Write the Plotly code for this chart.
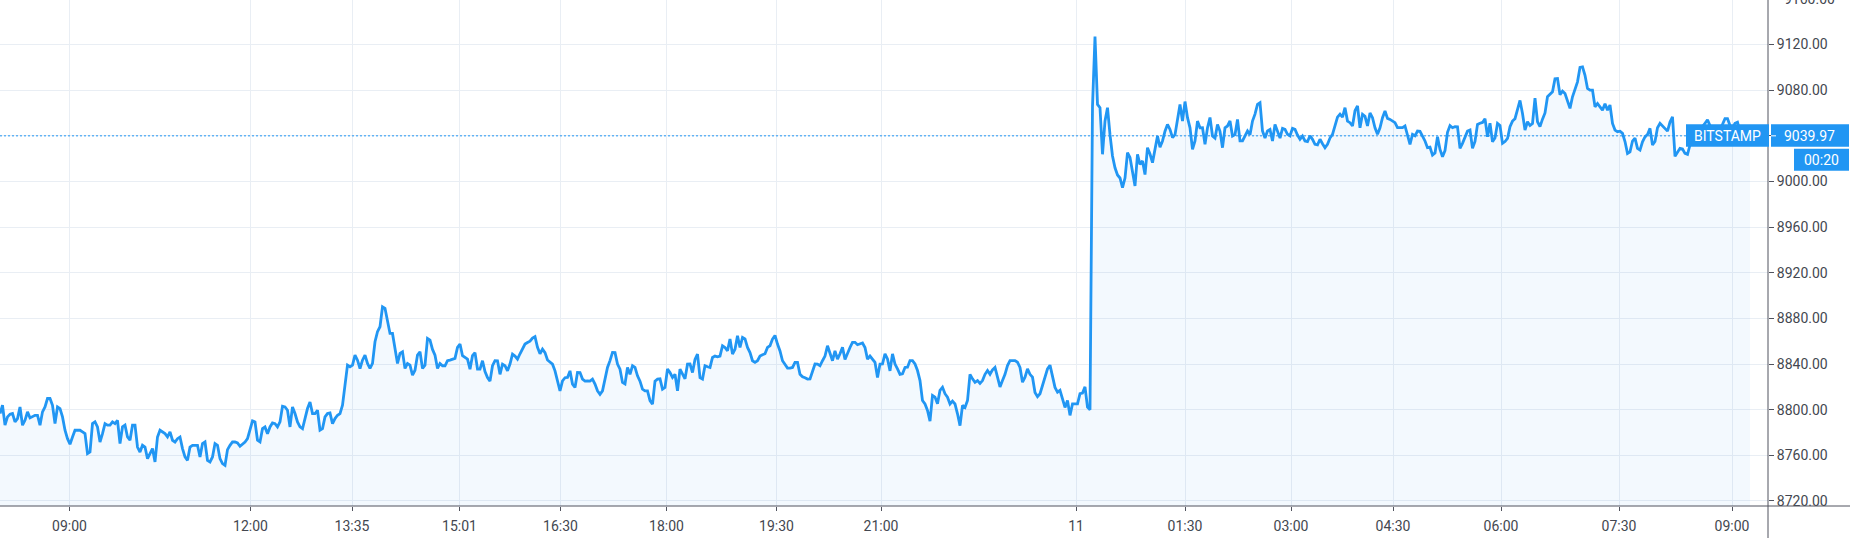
import plotly.graph_objects as go

# ---- data: close prices ----
# closes on the even bars
close_even = [
    8796.6, 8786.4, 8796.0, 8789.3, 8802.4, 8790.7, 8792.8, 8795.1, 8786.4, 8802.4,
    8809.8, 8787.8, 8801.0, 8782.0, 8769.7, 8782.0, 8782.0, 8779.0, 8762.9, 8789.3,
    8771.7, 8787.8, 8786.4, 8787.8, 8770.3, 8786.4, 8773.2, 8786.4, 8762.9, 8767.3,
    8761.5, 8754.2, 8782.0, 8779.0, 8780.5, 8771.7, 8776.1, 8758.6, 8767.3, 8768.8,
    8758.6, 8771.7, 8754.2, 8770.3, 8757.1, 8751.2, 8768.8, 8771.7, 8767.9, 8771.7,
    8782.0, 8789.3, 8771.7, 8784.9, 8784.9, 8787.8, 8789.3, 8802.4, 8784.9, 8796.6,
    8784.9, 8792.2, 8806.8, 8796.6, 8782.0, 8793.7, 8797.2, 8792.2, 8796.6, 8821.5,
    8837.6, 8847.8, 8836.1, 8847.8, 8836.1, 8859.5, 8872.7, 8888.8, 8866.8, 8852.2,
    8849.3, 8836.1, 8839.0, 8834.6, 8850.7, 8839.0, 8861.0, 8847.8, 8840.5, 8838.5,
    8843.5, 8845.0, 8857.5, 8846.0, 8835.5, 8850.0, 8835.5, 8833.5, 8825.0, 8843.0,
    8831.0, 8838.5, 8840.0, 8847.0, 8849.0, 8857.5, 8860.0, 8864.0, 8849.0, 8850.0,
    8841.5, 8834.0, 8816.5, 8828.0, 8834.0, 8819.5, 8832.5, 8825.0, 8825.0, 8822.5,
    8813.5, 8828.0, 8843.0, 8850.0, 8835.5, 8822.5, 8831.0, 8837.0, 8825.0, 8816.5,
    8808.0, 8825.0, 8827.0, 8819.5, 8832.5, 8831.0, 8835.5, 8827.0, 8840.0, 8844.0,
    8828.0, 8838.5, 8837.0, 8847.0, 8847.0, 8854.5, 8862.0, 8853.0, 8854.5, 8862.0,
    8850.0, 8841.5, 8847.0, 8849.0, 8856.0, 8865.0, 8851.5, 8840.0, 8836.5, 8841.5,
    8831.0, 8828.0, 8827.0, 8840.0, 8838.5, 8847.0, 8850.0, 8851.5, 8849.0, 8844.0,
    8854.5, 8859.0, 8857.5, 8854.5, 8847.0, 8841.5, 8840.0, 8849.0, 8834.0, 8840.0,
    8831.0, 8837.0, 8843.0, 8840.0, 8825.5, 8805.0, 8790.0, 8811.0, 8817.0, 8814.0,
    8805.0, 8805.0, 8786.0, 8802.0, 8831.0, 8824.0, 8823.0, 8831.0, 8831.0, 8837.0,
    8820.0, 8831.0, 8843.0, 8843.0, 8837.0, 8828.5, 8831.0, 8815.0, 8814.0, 8828.5,
    8839.0, 8819.5, 8817.0, 8802.0, 8795.0, 8805.0, 8814.0, 8820.0, 8800.0, 9127.0,
    9064.6, 9053.0, 9041.0, 9012.0, 9003.0, 9003.0, 9021.0, 8996.0, 9015.0, 9006.0,
    9024.0, 9028.0, 9030.0, 9044.0, 9045.6, 9041.0, 9067.5, 9070.0, 9047.0, 9035.5,
    9047.0, 9032.5, 9056.0, 9038.0, 9044.0, 9047.0, 9053.0, 9041.0, 9035.5, 9040.0,
    9041.0, 9059.0, 9069.0, 9038.0, 9045.6, 9050.0, 9038.0, 9045.6, 9040.0, 9045.6,
    9037.0, 9035.5, 9040.0, 9032.5, 9037.0, 9029.6, 9038.0, 9050.0, 9059.0, 9064.6,
    9051.5, 9062.0, 9047.0, 9057.0, 9060.0, 9047.0, 9047.0, 9061.7, 9054.4, 9051.5,
    9047.0, 9048.6, 9032.5, 9040.0, 9044.0, 9035.5, 9030.0, 9025.0, 9028.0, 9027.0,
    9049.0, 9048.0, 9029.0, 9039.0, 9045.0, 9035.0, 9051.0, 9055.0, 9051.0, 9038.0,
    9049.0, 9035.0, 9048.0, 9055.0, 9071.0, 9045.0, 9049.0, 9073.0, 9048.0, 9060.0,
    9076.0, 9090.0, 9076.0, 9077.0, 9064.0, 9080.0, 9100.0, 9093.0, 9080.0, 9065.4,
    9065.4, 9068.0, 9067.0, 9045.0, 9044.0, 9035.0, 9026.0, 9038.0, 9027.5, 9039.0,
    9046.5, 9035.0, 9051.0, 9046.5, 9052.0, 9022.0, 9029.0, 9024.6, 9032.0, 9040.0,
    9046.5, 9051.0, 9049.0, 9042.0, 9046.5, 9055.0, 9049.0, 9051.0, 9043.6, 9038.0,
    9039.97,
]
# closes on the odd bars (each sits between two even bars)
close_odd = [
    8803.9, 8793.7, 8796.6, 8792.2, 8786.4, 8798.1, 8794.3, 8795.1, 8798.1, 8809.8,
    8803.9, 8802.4, 8793.7, 8774.6, 8776.1, 8782.0, 8780.5, 8761.5, 8787.8, 8784.9,
    8779.0, 8786.4, 8789.3, 8790.7, 8784.9, 8776.1, 8786.4, 8767.3, 8768.8, 8757.1,
    8765.9, 8776.1, 8780.5, 8776.1, 8773.2, 8774.6, 8765.9, 8755.6, 8768.8, 8768.8,
    8770.3, 8755.6, 8758.6, 8768.8, 8752.7, 8765.0, 8771.7, 8770.8, 8769.7, 8774.6,
    8790.2, 8773.2, 8783.4, 8779.0, 8788.4, 8784.9, 8803.0, 8799.5, 8802.4, 8789.3,
    8783.4, 8801.0, 8796.6, 8799.5, 8783.4, 8796.6, 8787.8, 8795.1, 8803.9, 8839.0,
    8839.0, 8843.4, 8843.4, 8840.5, 8840.5, 8868.3, 8890.2, 8878.5, 8866.8, 8840.5,
    8850.7, 8840.5, 8830.2, 8847.8, 8836.1, 8862.4, 8852.8, 8836.1,
    8838.5, 8842.9, 8844.3, 8854.6, 8847.3, 8844.3, 8847.3, 8835.6, 8842.9, 8828.2,
    8838.5, 8842.9, 8839.9, 8834.1, 8848.7, 8844.3, 8853.1, 8858.9, 8862.7, 8854.6,
    8853.1, 8843.5, 8839.9, 8823.9, 8825.3, 8828.2, 8822.4, 8832.6, 8826.8, 8825.3,
    8826.8, 8816.5, 8816.5, 8837.0, 8850.2, 8839.9, 8823.9, 8837.0, 8838.5, 8829.7,
    8818.0, 8816.5, 8804.9, 8826.8, 8818.0, 8835.6, 8828.2, 8816.5, 8831.2, 8839.9,
    8832.6, 8848.7, 8826.8, 8837.6, 8845.8, 8846.4, 8856.0, 8851.6, 8848.7, 8864.8,
    8863.3, 8854.6, 8842.9, 8842.9, 8848.1, 8854.6, 8861.9, 8857.5, 8842.9, 8836.4,
    8837.0, 8841.4, 8828.8, 8826.8, 8832.6, 8839.9, 8842.9, 8856.0, 8842.9, 8844.3,
    8854.6, 8850.2, 8858.9, 8856.9, 8858.4, 8844.3, 8844.3, 8828.2,
    8840.1, 8844.5, 8848.9, 8835.7, 8831.4, 8837.2, 8843.0, 8834.3, 8808.0, 8799.3,
    8812.4, 8805.1, 8819.7, 8810.9, 8807.5, 8796.4, 8803.7, 8808.0, 8827.0, 8825.5,
    8825.5, 8834.3, 8834.9, 8828.5, 8825.5, 8838.7, 8843.0, 8841.6, 8824.1, 8835.7,
    8828.5, 8811.5, 8821.2, 8835.7, 8829.9, 8815.3, 8809.5, 8808.0, 8805.1, 8805.1,
    8814.5, 8802.2, 9066.0,
    9067.5, 9023.8, 9064.6, 9022.3, 9005.7, 8994.6, 9025.2, 9007.8, 9023.8, 9018.0,
    9029.6, 9016.5, 9039.8, 9035.5, 9050.0, 9038.4, 9054.4, 9052.9, 9055.9, 9028.2,
    9052.9, 9047.1, 9047.1, 9039.8, 9050.0, 9029.6, 9048.6, 9039.8, 9054.4, 9035.5,
    9044.2, 9052.9, 9067.5, 9044.2, 9044.2, 9035.5, 9044.2, 9046.5, 9041.3, 9046.5,
    9040.7, 9039.8, 9034.9, 9036.9, 9032.0, 9033.1, 9032.5, 9041.3, 9056.4, 9056.4,
    9052.9, 9048.6, 9066.1, 9058.8, 9048.6, 9055.9, 9041.3, 9055.9, 9055.3, 9052.9,
    9047.1, 9047.1, 9041.3, 9041.3, 9044.2, 9039.8, 9029.6,
    9023.1, 9039.2, 9021.7, 9043.0, 9047.1, 9047.9, 9033.4, 9044.1, 9029.0, 9050.0,
    9051.7, 9039.2, 9034.8, 9050.8, 9033.4, 9037.7, 9052.9, 9064.0, 9059.6, 9052.3,
    9050.8, 9052.3, 9054.6, 9074.2, 9078.5, 9090.2, 9079.1, 9069.8, 9074.2, 9087.3,
    9100.4, 9081.5, 9080.0, 9068.3, 9062.5, 9062.5, 9050.8, 9043.6, 9042.1, 9024.6,
    9035.4, 9029.0, 9034.8, 9041.2, 9031.9, 9047.1, 9048.8, 9044.1, 9056.7, 9026.1,
    9028.4, 9023.7, 9036.0, 9044.0, 9048.0, 9054.0, 9046.0, 9040.0, 9050.0, 9055.0,
    9047.0, 9052.0, 9040.0, 9041.0,
]

prices = []
for k, v in enumerate(close_even):
    prices.append(v)
    if k < len(close_odd):
        prices.append(close_odd[k])
bars = list(range(len(prices)))

last_price = 9039.97
symbol = "BITSTAMP"
countdown = "00:20"

# x tick labels and the bar index at which each sits
tick_bars = [27.8, 100.2, 140.8, 183.8, 224.2, 266.6, 310.6, 352.4,
             430.4, 474.0, 516.4, 557.2, 600.4, 647.6, 692.8]
tick_labels = ["09:00", "12:00", "13:35", "15:01", "16:30", "18:00", "19:30", "21:00",
               "11", "01:30", "03:00", "04:30", "06:00", "07:30", "09:00"]

x_range = [0, 707.2]
y_range = [8715.6, 9159.0]

# ---- styling ----
W, H = 1850, 538
ML, MR, MT, MB = 0, 82, 0, 32
PW, PH = W - ML - MR, H - MT - MB
BLUE = "#2196F3"
GRID = "#e9eef4"
AXIS = "#50535E"
TXT = "#434750"
FONT = "Trebuchet MS, Roboto, sans-serif"

fig = go.Figure()
fig.add_trace(go.Scatter(
    x=bars, y=prices, mode="lines",
    line=dict(color=BLUE, width=2.8),
    fill="tozeroy", fillcolor="rgba(33,150,243,0.055)",
    hoverinfo="skip", showlegend=False,
))
# last-price dotted line
fig.add_trace(go.Scatter(
    x=x_range, y=[last_price, last_price], mode="lines",
    line=dict(color=BLUE, width=1, dash="2px,2px"),
    hoverinfo="skip", showlegend=False,
))

fig.update_layout(
    width=W, height=H,
    margin=dict(l=ML, r=MR, t=MT, b=MB, pad=0, autoexpand=False),
    paper_bgcolor="white", plot_bgcolor="white",
    font=dict(family=FONT, size=14, color=TXT),
    xaxis=dict(
        range=x_range, tickvals=tick_bars, ticktext=tick_labels,
        showgrid=True, gridcolor=GRID, gridwidth=1,
        ticks="outside", ticklen=4, tickcolor=AXIS, tickwidth=1,
        showline=False, zeroline=False, automargin=False,
        ticklabelstandoff=3,
        tickfont=dict(family=FONT, size=14, color=TXT),
    ),
    yaxis=dict(
        range=y_range, side="right", dtick=40, tick0=8720, tickformat=".2f",
        showgrid=True, gridcolor=GRID, gridwidth=1,
        ticks="outside", ticklen=5, tickcolor=AXIS, tickwidth=1,
        showline=False, zeroline=False, automargin=False,
        tickfont=dict(family=FONT, size=14, color=TXT),
    ),
)

def ypaper(v):
    return (v - y_range[0]) / (y_range[1] - y_range[0])

shapes = [
    dict(type="line", xref="paper", yref="paper", x0=0, x1=W / PW, y0=0, y1=0,
         line=dict(color=AXIS, width=1)),
    dict(type="line", xref="paper", yref="paper", x0=1, x1=1, y0=-MB / PH, y1=1,
         line=dict(color=AXIS, width=1)),
    dict(type="rect", xref="paper", yref="paper",
         x0=(PW + 3) / PW, x1=(W - 1) / PW,
         y0=ypaper(last_price) - 11 / PH, y1=ypaper(last_price) + 11.5 / PH,
         line=dict(width=0), fillcolor=BLUE, layer="above"),
    dict(type="line", xref="paper", yref="paper",
         x0=(PW + 3) / PW, x1=(PW + 8) / PW,
         y0=ypaper(last_price), y1=ypaper(last_price),
         line=dict(color="white", width=1), layer="above"),
    dict(type="rect", xref="paper", yref="paper",
         x0=(PW - 82) / PW, x1=(PW + 1) / PW,
         y0=ypaper(last_price) - 11 / PH, y1=ypaper(last_price) + 11.5 / PH,
         line=dict(width=0), fillcolor=BLUE, layer="above"),
    dict(type="rect", xref="paper", yref="paper",
         x0=(PW + 26) / PW, x1=(W - 1) / PW,
         y0=ypaper(last_price) - 35 / PH, y1=ypaper(last_price) - 13 / PH,
         line=dict(width=0), fillcolor=BLUE, layer="above"),
]
fig.update_layout(shapes=shapes)

annotations = [
    dict(xref="paper", yref="paper", x=(PW - 41) / PW, y=ypaper(last_price),
         text=symbol, showarrow=False, xanchor="center", yanchor="middle",
         font=dict(family=FONT, size=14, color="white")),
    dict(xref="paper", yref="paper", x=(PW + 42) / PW, y=ypaper(last_price),
         text=f"{last_price:.2f}", showarrow=False, xanchor="center", yanchor="middle",
         font=dict(family=FONT, size=14, color="white")),
    dict(xref="paper", yref="paper", x=(PW + 54) / PW, y=ypaper(last_price) - 24 / PH,
         text=countdown, showarrow=False, xanchor="center", yanchor="middle",
         font=dict(family=FONT, size=14, color="white")),
    dict(xref="paper", yref="paper", x=(PW + 14) / PW, y=ypaper(9160.0),
         text=f"{9160.0:.2f}", showarrow=False, xanchor="left", yanchor="middle",
         font=dict(family=FONT, size=14, color=TXT)),
]
fig.update_layout(annotations=annotations)

fig.write_html(
    "out.html",
    config={"displayModeBar": False},
    post_script="document.body.style.margin='0';document.body.style.padding='0';",
)
